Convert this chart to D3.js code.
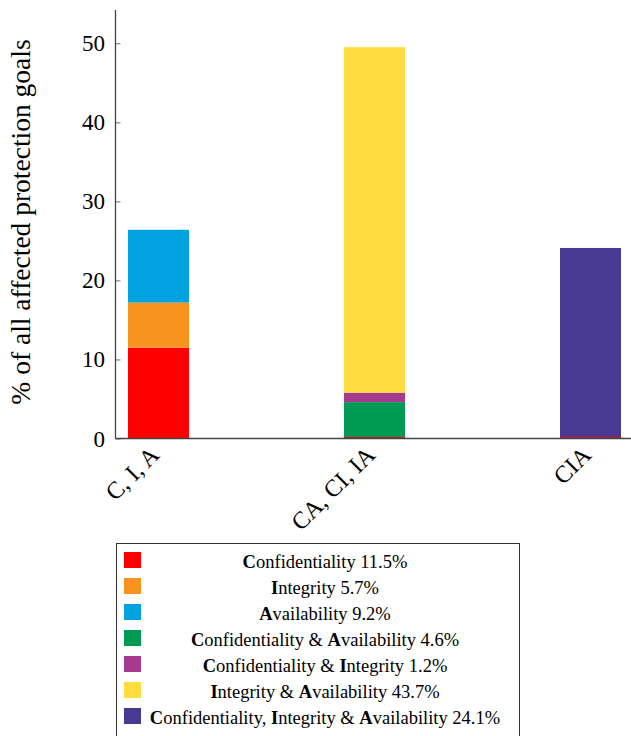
<!DOCTYPE html>
<html>
<head>
<meta charset="utf-8">
<script src="https://cdn.jsdelivr.net/npm/d3@7"></script>
<style>
  body { margin: 0; background: #fff; }
  text { font-family: "Liberation Serif", "DejaVu Serif", serif; }
</style>
</head>
<body>
<div id="chart"></div>
<script>
// categories on the x axis
const categories = ["C, I, A", "CA, CI, IA", "CIA"];

// one value per category for every stacked series
const seriesKeys = ["C", "I", "A", "CA", "CI", "IA", "CIA"];
const valC   = [11.5, 0, 0];
const valI   = [5.7, 0, 0];
const valA   = [9.2, 0, 0];
const valCA  = [0, 4.6, 0];
const valCI  = [0, 1.2, 0];
const valIA  = [0, 43.7, 0];
const valCIA = [0, 0, 24.1];

const seriesColors = ["#ff0000", "#f7931e", "#00a3e0", "#009a52", "#a63a8f", "#ffdc3f", "#483a92"];

// legend entries: [bold initial, rest] pieces + share
const legendParts = [
  [["C", "onfidentiality"]],
  [["I", "ntegrity"]],
  [["A", "vailability"]],
  [["C", "onfidentiality & "], ["A", "vailability"]],
  [["C", "onfidentiality & "], ["I", "ntegrity"]],
  [["I", "ntegrity & "], ["A", "vailability"]],
  [["C", "onfidentiality, "], ["I", "ntegrity & "], ["A", "vailability"]]
];
const legendShare = ["11.5%", "5.7%", "9.2%", "4.6%", "1.2%", "43.7%", "24.1%"];

const yTicks = [0, 10, 20, 30, 40, 50];

const W = 631, H = 736;
const svg = d3.select("#chart").append("svg")
    .attr("width", W)
    .attr("height", H);

// build table rows for d3.stack
const allVals = [valC, valI, valA, valCA, valCI, valIA, valCIA];
const table = categories.map(function(c, i) {
  const row = {cat: c};
  seriesKeys.forEach(function(k, j) { row[k] = allVals[j][i]; });
  return row;
});
const stacked = d3.stack().keys(seriesKeys)(table);

const x = d3.scalePoint()
  .domain(categories)
  .range([158.5, 590.5]);
const barW = 61;

const y = d3.scaleLinear()
  .domain([0, 54.2])
  .range([438.5, 10]);

// bars
const groups = svg.append("g").selectAll("g")
  .data(stacked)
  .enter().append("g")
    .attr("fill", function(d, i) { return seriesColors[i]; });

groups.selectAll("rect")
  .data(function(d) { return d; })
  .enter().append("rect")
    .attr("x", function(d) { return x(d.data.cat) - barW / 2; })
    .attr("y", function(d) { return y(d[1]); })
    .attr("width", barW)
    .attr("height", function(d) { return y(d[0]) - y(d[1]); });

// zero-height segments of the first series still leave a thin red edge
svg.append("g").selectAll("rect")
  .data(stacked[0].filter(function(d) { return d[1] - d[0] === 0; }))
  .enter().append("rect")
    .attr("x", function(d) { return x(d.data.cat) - barW / 2; })
    .attr("y", y(0) - 1.5)
    .attr("width", barW)
    .attr("height", 1.5)
    .attr("fill", seriesColors[0]);

// y axis
const yAxis = svg.append("g")
  .attr("transform", "translate(115.5,0)")
  .call(d3.axisRight(y).tickValues(yTicks).tickSize(5).tickFormat(""));
yAxis.select(".domain").remove();
yAxis.selectAll(".tick line").attr("stroke", "#888").attr("stroke-width", 1.2);

svg.append("g").selectAll("text")
  .data(yTicks)
  .enter().append("text")
    .attr("x", 105)
    .attr("y", function(d) { return y(d); })
    .attr("dy", "0.35em")
    .attr("text-anchor", "end")
    .attr("font-size", 23)
    .text(function(d) { return d; });

svg.append("line")
  .attr("x1", 115.5).attr("x2", 115.5)
  .attr("y1", 10).attr("y2", y(0))
  .attr("stroke", "#444").attr("stroke-width", 1.3);

// x axis
svg.append("line")
  .attr("x1", 115.5).attr("x2", W)
  .attr("y1", y(0)).attr("y2", y(0))
  .attr("stroke", "#444").attr("stroke-width", 1.3);

svg.append("g").selectAll("text")
  .data(categories)
  .enter().append("text")
    .attr("transform", function(d) { return "translate(" + (x(d) - 4) + "," + (y(0) + 12) + ") rotate(-45)"; })
    .attr("text-anchor", "end")
    .attr("dy", "0.35em")
    .attr("font-size", 24)
    .text(function(d) { return d; });

// y label
svg.append("text")
  .attr("transform", "translate(30,222) rotate(-90)")
  .attr("text-anchor", "middle")
  .attr("font-size", 27.5)
  .text("% of all affected protection goals");

// legend
const lg = svg.append("g");
lg.append("rect")
  .attr("x", 116.5).attr("y", 543.5)
  .attr("width", 403).attr("height", 200)
  .attr("fill", "none").attr("stroke", "#333").attr("stroke-width", 1);

const rows = lg.selectAll("g.row")
  .data(legendParts)
  .enter().append("g")
    .attr("class", "row")
    .attr("transform", function(d, i) { return "translate(0," + (561 + i * 26) + ")"; });

rows.append("rect")
  .attr("x", 124).attr("y", -9)
  .attr("width", 17).attr("height", 16)
  .attr("fill", function(d, i) { return seriesColors[i]; });

rows.append("text")
  .attr("x", 325)
  .attr("dy", "0.4em")
  .attr("text-anchor", "middle")
  .attr("font-size", 18.5)
  .each(function(parts, i) {
    const t = d3.select(this);
    parts.forEach(function(p) {
      t.append("tspan").attr("font-weight", "bold").text(p[0]);
      t.append("tspan").text(p[1]);
    });
    t.append("tspan").text(" " + legendShare[i]);
  });
</script>
</body>
</html>
